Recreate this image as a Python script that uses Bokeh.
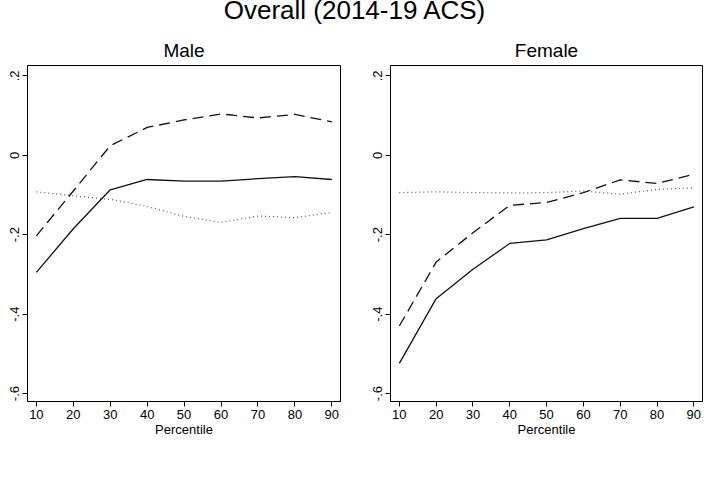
from bokeh.plotting import figure
from bokeh.models import Legend, LegendItem, FixedTicker, Range1d, Div
from bokeh.layouts import column, row
from bokeh.embed import file_html
from bokeh.resources import INLINE

# ---- data ----
percentiles = [10, 20, 30, 40, 50, 60, 70, 80, 90]

male_raw = [-0.295, -0.185, -0.087, -0.061, -0.065, -0.065, -0.059, -0.054, -0.061]
male_comp = [-0.092, -0.102, -0.111, -0.129, -0.154, -0.169, -0.153, -0.157, -0.144]
male_struct = [-0.203, -0.090, 0.024, 0.070, 0.089, 0.104, 0.094, 0.103, 0.084]

female_raw = [-0.524, -0.361, -0.287, -0.222, -0.213, -0.185, -0.159, -0.159, -0.130]
female_comp = [-0.094, -0.092, -0.094, -0.095, -0.094, -0.090, -0.098, -0.086, -0.082]
female_struct = [-0.430, -0.269, -0.195, -0.126, -0.119, -0.094, -0.062, -0.071, -0.048]

y_ticks = [-0.6, -0.4, -0.2, 0.0, 0.2]
y_tick_labels = ["-.6", "-.4", "-.2", "0", ".2"]
x_ticks = [10, 20, 30, 40, 50, 60, 70, 80, 90]

main_title = "Overall (2014-19 ACS)"
panel_titles = ["Male", "Female"]
series_names = ["Raw Gap", "Composition Effect", "Structural Effect"]
x_label = "Percentile"

FONT = "Liberation Sans"


def style_legend(lg, label_width):
    lg.label_text_font = FONT
    lg.label_text_font_size = "14px"
    lg.label_text_color = "#000000"
    lg.glyph_width = 35
    lg.glyph_height = 16
    lg.label_height = 16
    lg.label_width = label_width
    lg.label_standoff = 12
    lg.spacing = 3
    lg.padding = 0
    lg.margin = 0
    lg.border_line_alpha = 0
    lg.background_fill_alpha = 0


def make_panel(title, raw, comp, struct, width, border_left, border_right, legend_x, label_width):
    p = figure(width=width, height=456, output_backend="svg", toolbar_location=None,
               x_range=Range1d(7.6, 92.35), y_range=Range1d(-0.62, 0.226),
               min_border_left=border_left, min_border_right=border_right,
               min_border_top=35, min_border_bottom=85, title=title)
    p.title.text_font = FONT
    p.title.text_font_size = "19px"
    p.title.text_font_style = "normal"
    p.title.align = "center"
    p.title.text_color = "#000000"

    p.outline_line_color = "#000000"
    p.xgrid.visible = False
    p.ygrid.visible = False

    p.xaxis.ticker = FixedTicker(ticks=x_ticks)
    p.yaxis.ticker = FixedTicker(ticks=y_ticks)
    p.yaxis.major_label_overrides = {t: l for t, l in zip(y_ticks, y_tick_labels)}
    p.yaxis.major_label_orientation = "vertical"
    for ax in (p.xaxis, p.yaxis):
        ax.axis_line_color = "#000000"
        ax.major_tick_line_color = "#000000"
        ax.minor_tick_line_color = None
        ax.major_tick_out = 5
        ax.major_tick_in = 0
        ax.major_label_text_font = FONT
        ax.major_label_text_font_size = "13px"
        ax.major_label_text_color = "#000000"
        ax.major_label_standoff = 3
    p.xaxis.axis_label = x_label
    p.xaxis.axis_label_text_font = FONT
    p.xaxis.axis_label_text_font_size = "13px"
    p.xaxis.axis_label_text_font_style = "normal"
    p.xaxis.axis_label_text_color = "#000000"
    p.xaxis.axis_label_standoff = 0

    r_raw = p.line(percentiles, raw, line_color="#111111", line_width=1.3)
    r_comp = p.line(percentiles, comp, line_color="#555555", line_width=1.2, line_dash="1 3")
    r_struct = p.line(percentiles, struct, line_color="#111111", line_width=1.3, line_dash="11 6")

    # legend rows sit below the frame (negative screen offsets from the frame's bottom-left)
    lg1 = Legend(items=[LegendItem(label=series_names[0], renderers=[r_raw]),
                        LegendItem(label=series_names[1], renderers=[r_comp])],
                 orientation="horizontal", location=(legend_x, -63))
    lg2 = Legend(items=[LegendItem(label=series_names[2], renderers=[r_struct])],
                 orientation="horizontal", location=(legend_x, -84))
    style_legend(lg1, label_width)
    style_legend(lg2, label_width)
    p.add_layout(lg1)
    p.add_layout(lg2)
    return p


p1 = make_panel(panel_titles[0], male_raw, male_comp, male_struct, 354, 27, 14, 10, 100)
p2 = make_panel(panel_titles[1], female_raw, female_comp, female_struct, 355, 36, 7, 4, 98)

title_div = Div(text=main_title, width=709, height=30, margin=0,
                styles={"font-family": FONT, "font-size": "26px", "text-align": "center",
                        "line-height": "20px", "color": "#000000"})

layout = column(title_div, row(p1, p2))

open("out.html", "w").write(file_html(layout, INLINE))
